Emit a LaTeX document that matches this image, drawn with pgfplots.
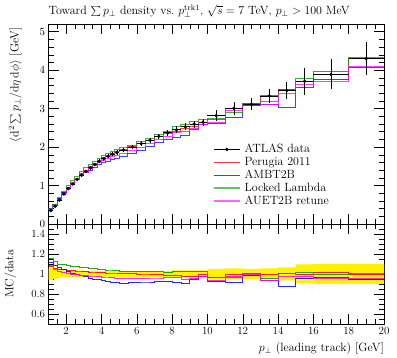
\documentclass[border=0pt]{standalone}
\usepackage{pgfplots}
\pgfplotsset{compat=1.18}
\usepackage{pgfplotstable}
\usepgfplotslibrary{fillbetween}

\definecolor{mcred}{RGB}{235,0,0}
\definecolor{mcblue}{RGB}{0,0,255}
\definecolor{mcgreen}{RGB}{0,150,0}
\definecolor{mcmag}{RGB}{255,0,255}

% data: bin centre, value, half bin width, total error
\pgfplotstableread{
x y ex ey
1.125 0.35 0.125 0.021
1.375 0.46 0.125 0.023
1.625 0.62 0.125 0.025
1.875 0.78 0.125 0.027
2.125 0.92 0.125 0.032
2.375 1.04 0.125 0.036
2.625 1.16 0.125 0.041
2.875 1.27 0.125 0.044
3.125 1.37 0.125 0.041
3.375 1.46 0.125 0.044
3.625 1.55 0.125 0.047
3.875 1.63 0.125 0.049
4.125 1.70 0.125 0.051
4.375 1.76 0.125 0.053
4.625 1.81 0.125 0.054
4.875 1.86 0.125 0.056
5.25 1.92 0.25 0.058
5.75 2.00 0.25 0.060
6.25 2.09 0.25 0.063
6.75 2.18 0.25 0.065
7.25 2.28 0.25 0.068
7.75 2.37 0.25 0.071
8.25 2.45 0.25 0.086
8.75 2.53 0.25 0.089
9.25 2.60 0.25 0.091
9.75 2.65 0.25 0.093
10.5 2.82 0.5 0.14
11.5 3.01 0.5 0.166
12.5 3.11 0.5 0.156
13.5 3.33 0.5 0.19
14.5 3.47 0.5 0.226
15.5 3.71 0.5 0.352
17 3.89 1 0.389
19 4.30 1 0.43
}\datatab

% MC histograms: left bin edge, Perugia2011, AMBT2B, LockedLambda, AUET2B
\pgfplotstableread{
x R B G M
1.00 0.378 0.392 0.406 0.382
1.25 0.488 0.501 0.520 0.483
1.50 0.651 0.663 0.682 0.639
1.75 0.815 0.819 0.854 0.796
2.00 0.957 0.948 1.003 0.929
2.25 1.076 1.050 1.123 1.040
2.50 1.195 1.160 1.247 1.154
2.75 1.308 1.251 1.359 1.257
3.00 1.404 1.336 1.459 1.349
3.25 1.489 1.402 1.548 1.431
3.50 1.581 1.473 1.635 1.519
3.75 1.654 1.540 1.712 1.589
4.00 1.726 1.590 1.777 1.649
4.25 1.778 1.637 1.830 1.707
4.50 1.828 1.665 1.882 1.747
4.75 1.879 1.702 1.925 1.786
5.0 1.930 1.747 1.978 1.834
5.5 2.010 1.830 2.050 1.910
6.0 2.090 1.923 2.142 1.996
6.5 2.180 2.006 2.235 2.093
7.0 2.269 2.109 2.337 2.189
7.5 2.346 2.192 2.417 2.287
8.0 2.413 2.254 2.524 2.377
8.5 2.479 2.302 2.593 2.404
9.0 2.535 2.470 2.665 2.496
9.5 2.650 2.597 2.730 2.584
10 2.72 2.62 2.74 2.65
11 3.01 2.77 2.90 2.95
12 3.14 3.08 3.14 3.11
13 3.33 3.11 3.18 3.11
14 3.50 3.04 3.50 3.39
15 3.71 3.54 3.78 3.63
16 3.97 3.77 3.89 3.71
18 4.30 4.07 4.32 4.10
20 4.30 4.07 4.32 4.10
}\mctab

% ratios MC/data and data error band
\pgfplotstableread{
x R B G M lo hi
1.00 1.08 1.12 1.16 1.09 0.94 1.06
1.25 1.06 1.09 1.13 1.05 0.95 1.05
1.50 1.05 1.07 1.10 1.03 0.96 1.04
1.75 1.045 1.05 1.095 1.02 0.965 1.035
2.00 1.04 1.03 1.09 1.01 0.965 1.035
2.25 1.035 1.01 1.08 1.0 0.965 1.035
2.50 1.03 1.0 1.075 0.995 0.965 1.035
2.75 1.03 0.985 1.07 0.99 0.965 1.035
3.00 1.025 0.975 1.065 0.985 0.97 1.03
3.25 1.02 0.96 1.06 0.98 0.97 1.03
3.50 1.02 0.95 1.055 0.98 0.97 1.03
3.75 1.015 0.945 1.05 0.975 0.97 1.03
4.00 1.015 0.935 1.045 0.97 0.97 1.03
4.25 1.01 0.93 1.04 0.97 0.97 1.03
4.50 1.01 0.92 1.04 0.965 0.97 1.03
4.75 1.01 0.915 1.035 0.96 0.97 1.03
5.0 1.005 0.91 1.03 0.955 0.97 1.03
5.5 1.005 0.915 1.025 0.955 0.97 1.03
6.0 1.0 0.92 1.025 0.955 0.97 1.03
6.5 1.0 0.92 1.025 0.96 0.97 1.03
7.0 0.995 0.925 1.025 0.96 0.97 1.03
7.5 0.99 0.925 1.02 0.965 0.97 1.03
8.0 0.985 0.92 1.03 0.97 0.965 1.035
8.5 0.98 0.91 1.025 0.95 0.965 1.035
9.0 0.975 0.95 1.025 0.96 0.965 1.035
9.5 1.0 0.98 1.03 0.975 0.965 1.035
10 0.965 0.93 0.97 0.94 0.95 1.05
11 1.0 0.92 0.965 0.98 0.945 1.055
12 1.01 0.99 1.01 1.0 0.95 1.05
13 1.0 0.935 0.955 0.935 0.943 1.057
14 1.01 0.876 1.01 0.977 0.935 1.065
15 1.0 0.955 1.02 0.978 0.905 1.095
16 1.02 0.97 1.0 0.955 0.9 1.1
18 1.0 0.947 1.005 0.953 0.9 1.1
20 1.0 0.947 1.005 0.953 0.9 1.1
}\ratiotab

\pgfplotsset{
  rivet/.style={
    scale only axis,
    width=335.5bp,
    xmin=1, xmax=20,
    axis line style={line width=0.5pt},
    every tick/.style={black, line width=0.4pt},
    major tick length=10bp,
    minor tick length=5bp,
    tick align=inside,
    xtick={2,4,...,20},
    minor xtick={1,1.5,...,20},
    tick label style={font=\fontsize{11}{13}\selectfont},
    label style={font=\fontsize{12}{14}\selectfont},
  },
  mcline/.style={const plot mark left, line width=1pt, opacity=0.75, mark=none, forget plot},
  rline/.style={const plot mark left, line width=0.8pt, opacity=0.85, mark=none, forget plot},
}

\begin{document}
\begin{tikzpicture}[font=\fontsize{12}{14}\selectfont]

\begin{axis}[rivet,
  at={(0bp,100bp)}, anchor=south west,
  height=200bp,
  ymin=0, ymax=5.2,
  ytick={0,1,2,3,4,5},
  minor ytick={0,0.2,...,5.2},
  xticklabels={},
  ylabel={$\langle \mathrm{d}^2 \sum p_\perp/\mathrm{d}\eta\,\mathrm{d}\phi\rangle$ [GeV]},
  ylabel style={at={(rel axis cs:-0.07,1)}, anchor=south east},
  title={Toward $\sum p_\perp$ density vs.\ $p_\perp^{\mathrm{trk1}}$, $\sqrt{s}=7$ TeV, $p_\perp>100$ MeV},
  title style={at={(rel axis cs:0,1)}, anchor=south west, yshift=-3bp, inner xsep=0pt},
  legend style={at={(rel axis cs:0.49,0.405)}, anchor=north west, draw=none, fill=none,
     font=\fontsize{12}{14}\selectfont, row sep=0.6bp, inner sep=0pt,
     nodes={inner xsep=4bp, inner ysep=1.2bp}},
  legend cell align=left,
  legend image code/.code={\draw[#1, mark=none] (0bp,0bp) -- (26bp,0bp);},
]
\addplot[mcline, mcred] table[x=x, y=R] {\mctab};
\addplot[mcline, mcblue] table[x=x, y=B] {\mctab};
\addplot[mcline, mcgreen] table[x=x, y=G] {\mctab};
\addplot[mcline, mcmag] table[x=x, y=M] {\mctab};
\addplot[black, only marks, mark=*, mark size=1.5pt, forget plot,
   error bars/.cd, x dir=both, x explicit, y dir=both, y explicit,
   error mark=none, error bar style={line width=0.8pt, black}]
   table[x=x, y=y, x error=ex, y error=ey] {\datatab};

\addlegendimage{legend image code/.code={\draw[black, line width=0.8pt] (0bp,0bp) -- (26bp,0bp); \fill[black] (13bp,0bp) circle (1.5pt);}}
\addlegendentry{ATLAS data}
\addlegendimage{mcred, line width=1pt, opacity=0.75}
\addlegendentry{Perugia 2011}
\addlegendimage{mcblue, line width=1pt, opacity=0.75}
\addlegendentry{AMBT2B}
\addlegendimage{mcgreen, line width=1.5pt, opacity=0.6}
\addlegendentry{Locked Lambda}
\addlegendimage{mcmag, line width=1.5pt, opacity=0.6}
\addlegendentry{AUET2B retune}
\end{axis}

\begin{axis}[rivet,
  at={(0bp,0bp)}, anchor=south west,
  height=100bp,
  ymin=0.5, ymax=1.5,
  ytick={0.6,0.8,1,1.2,1.4},
  yticklabels={0.6,0.8,1,1.2,1.4},
  minor ytick={0.5,0.55,...,1.5},
  xticklabels={2,4,6,8,10,12,14,16,18,20},
  xlabel={$p_\perp$ (leading track) [GeV]},
  xlabel style={at={(rel axis cs:1,0)}, anchor=north east, yshift=-15bp, inner xsep=0pt},
  ylabel={MC/data},
  ylabel style={at={(rel axis cs:-0.085,0.5)}, anchor=south},
]
\addplot[const plot mark left, draw=none, name path=hi, forget plot] table[x=x, y=hi] {\ratiotab};
\addplot[const plot mark left, draw=none, name path=lo, forget plot] table[x=x, y=lo] {\ratiotab};
\addplot[fill=yellow, draw=none, forget plot] fill between[of=hi and lo];
\addplot[rline, mcred] table[x=x, y=R] {\ratiotab};
\addplot[rline, mcblue] table[x=x, y=B] {\ratiotab};
\addplot[rline, mcgreen] table[x=x, y=G] {\ratiotab};
\addplot[rline, mcmag] table[x=x, y=M] {\ratiotab};
\end{axis}
\path (-48.5bp,-34bp) rectangle (348.5bp,324bp);
\end{tikzpicture}
\end{document}
